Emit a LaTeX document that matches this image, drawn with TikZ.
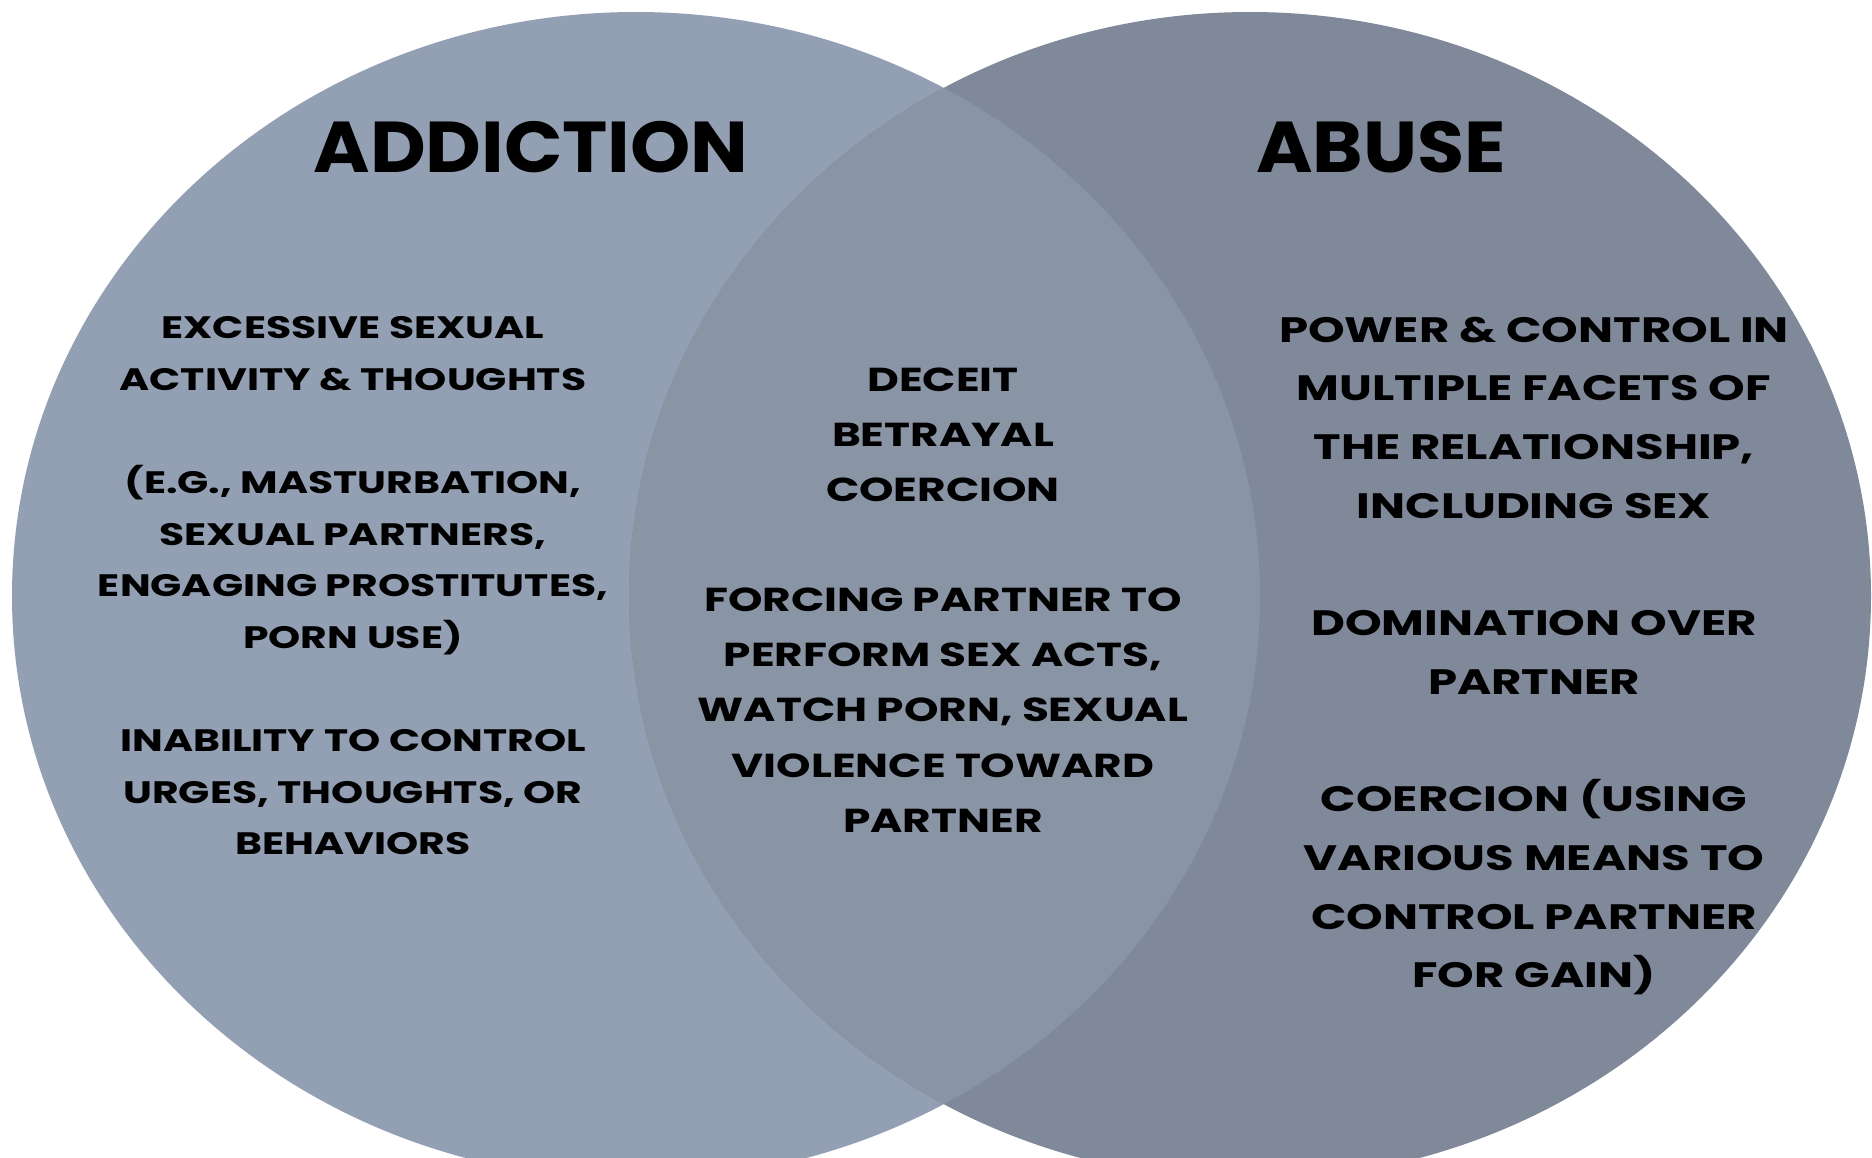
\documentclass[tikz,border=0pt]{standalone}
\usepackage{fontspec}
\setmainfont{Poppins}
\newfontfamily\headfont{Poppins}[FakeStretch=1.065]
\newfontfamily\blurbfont{Poppins}[FakeStretch=1.32]
\usepackage{tikz}
\definecolor{addictfill}{RGB}{147,160,179}
\definecolor{abusefill}{RGB}{128,137,153}
\definecolor{sharedfill}{RGB}{137,148,164}
\tikzset{heading/.style={font=\headfont\bfseries\fontsize{72}{80}\selectfont, text=black},
  blurb/.style 2 args={font=\blurbfont\bfseries\fontsize{#1}{#2}\selectfont, align=center, text=black}
}

\begin{document}
\begin{tikzpicture}[x=1pt,y=-1pt]
  \useasboundingbox[fill=white] (0,0) rectangle (1872,1157);
  \begin{scope}
    \clip (0,0) rectangle (1872,1157);
    \fill[addictfill] (636,596) ellipse [x radius=624, y radius=584];
    \fill[abusefill] (1250,596) ellipse [x radius=621, y radius=584];
    \begin{scope}
      \clip (636,596) ellipse [x radius=624, y radius=584];
      \fill[sharedfill] (1250,596) ellipse [x radius=621, y radius=584];
    \end{scope}
  \end{scope}
  \node[heading] (addiction) at (531,147) {ADDICTION};
  \node[heading] (abuse) at (1381,147) {ABUSE};
  \node[blurb={31}{51.6}] (addictiontext) at (353,586) {EXCESSIVE SEXUAL\\ ACTIVITY \& THOUGHTS\\[51.6pt]
    (E.G., MASTURBATION,\\ SEXUAL PARTNERS,\\ ENGAGING PROSTITUTES,\\ PORN USE)\\[51.6pt]
    INABILITY TO CONTROL\\ URGES, THOUGHTS, OR\\ BEHAVIORS};
  \node[blurb={33.2}{55.1}] (sharedtext) at (943,600) {DECEIT\\ BETRAYAL\\ COERCION\\[55.1pt]
    FORCING PARTNER TO\\ PERFORM SEX ACTS,\\ WATCH PORN, SEXUAL\\ VIOLENCE TOWARD\\ PARTNER};
  \node[blurb={35.3}{58.7}] (abusetext) at (1534,656) {POWER \& CONTROL IN\\ MULTIPLE FACETS OF\\ THE RELATIONSHIP,\\ INCLUDING SEX\\[58.7pt]
    DOMINATION OVER\\ PARTNER\\[58.7pt]
    COERCION (USING\\ VARIOUS MEANS TO\\ CONTROL PARTNER\\ FOR GAIN)};
\end{tikzpicture}
\end{document}
